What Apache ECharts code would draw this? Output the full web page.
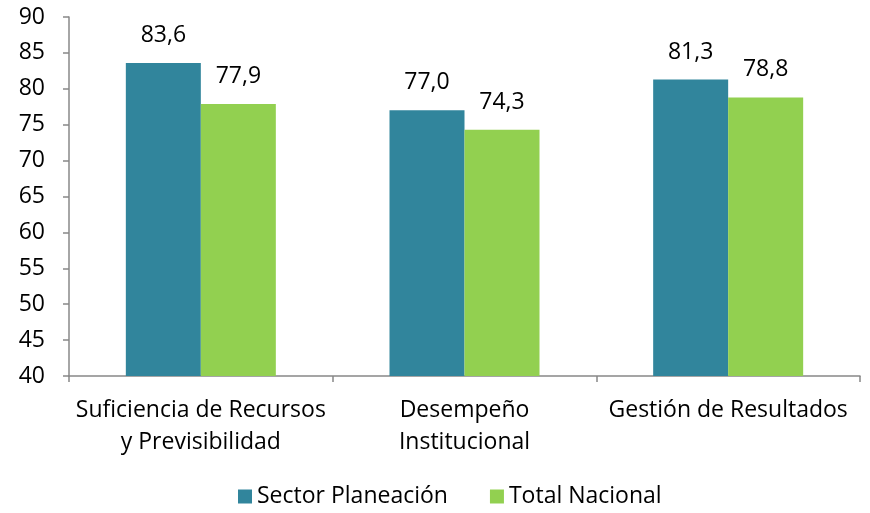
<!DOCTYPE html>
<html>
<head>
<meta charset="utf-8">
<script src="https://cdn.jsdelivr.net/npm/echarts@6/dist/echarts.min.js"></script>
<style>
  html, body { margin: 0; padding: 0; background: #fff; }
  #main { width: 870px; height: 513px; }
</style>
</head>
<body>
<div id="main"></div>
<script>
var categories = ['Suficiencia de Recursos\ny Previsibilidad', 'Desempeño\nInstitucional', 'Gestión de Resultados'];
var sectorValues = [83.6, 77.0, 81.3];
var totalValues = [77.9, 74.3, 78.8];
var seriesNames = ['Sector Planeación', 'Total Nacional'];

var font = 'Open Sans';
var chart = echarts.init(document.getElementById('main'));

function fmt(p) {
  return p.value.toFixed(1).replace('.', ',');
}

var option = {
  animation: false,
  textStyle: { fontFamily: font },
  grid: { left: 69, right: 10, top: 17, bottom: 137 },
  legend: {
    data: seriesNames,
    bottom: 0,
    left: 233,
    itemWidth: 14,
    itemHeight: 14,
    itemGap: 42,
    icon: 'rect',
    textStyle: { fontFamily: font, fontSize: 23, color: '#000' }
  },
  xAxis: {
    type: 'category',
    data: categories,
    axisLine: { lineStyle: { color: '#888', width: 1.5 } },
    axisTick: { show: true, alignWithLabel: false, length: 6, lineStyle: { color: '#888', width: 1.5 } },
    axisLabel: { fontFamily: font, fontSize: 23, color: '#000', lineHeight: 32, margin: 18, interval: 0 }
  },
  yAxis: {
    type: 'value',
    min: 40,
    max: 90,
    interval: 5,
    splitLine: { show: false },
    axisLine: { show: true, lineStyle: { color: '#888', width: 1.5 } },
    axisTick: { show: true, length: 6, lineStyle: { color: '#888', width: 1.5 } },
    axisLabel: { fontFamily: font, fontSize: 23, color: '#000', margin: 24 }
  },
  series: [
    {
      name: seriesNames[0],
      type: 'bar',
      data: sectorValues,
      barWidth: 75,
      barGap: '0%',
      itemStyle: { color: '#31859C' },
      label: { show: true, position: 'top', distance: 16, fontFamily: font, fontSize: 23, color: '#000', formatter: fmt }
    },
    {
      name: seriesNames[1],
      type: 'bar',
      data: totalValues,
      barWidth: 75,
      barGap: '0%',
      itemStyle: { color: '#92D050' },
      label: { show: true, position: 'top', distance: 16, fontFamily: font, fontSize: 23, color: '#000', formatter: fmt }
    }
  ]
};

chart.setOption(option);
</script>
</body>
</html>
